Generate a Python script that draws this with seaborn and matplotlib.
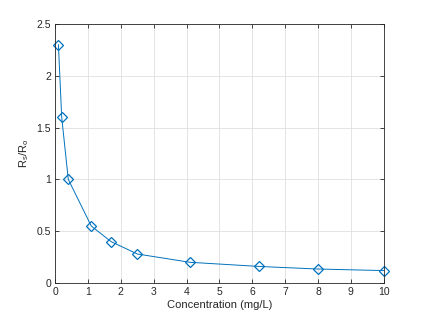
import matplotlib
matplotlib.use("Agg")
import matplotlib.pyplot as plt
import seaborn as sns
import pandas as pd

# Values
concentration = [0.1, 0.2, 0.4, 1.1, 1.7, 2.5, 4.1, 6.2, 8.0, 10.0]
ratio = [2.3, 1.6, 1.0, 0.55, 0.40, 0.28, 0.20, 0.16, 0.135, 0.12]
x_ticks = list(range(0, 11))
y_ticks = [0, 0.5, 1, 1.5, 2, 2.5]

df = pd.DataFrame({"conc": concentration, "ratio": ratio})

sns.set_style("white")
plt.rcParams['font.family'] = ['Liberation Sans', 'DejaVu Sans']
plt.rcParams['mathtext.fontset'] = 'custom'
plt.rcParams['mathtext.rm'] = 'Liberation Sans'
plt.rcParams['mathtext.it'] = 'Liberation Sans'

fig = plt.figure(figsize=(4.24, 3.18), dpi=100)
ax = fig.add_axes([0.13, 0.11, 0.775, 0.815])

blue = '#0072BD'
sns.lineplot(data=df, x='conc', y='ratio', ax=ax, color=blue, linewidth=0.7,
             marker='D', markersize=5, markerfacecolor='none',
             markeredgecolor=blue, markeredgewidth=0.9, sort=False, clip_on=False)

ax.set_xlim(0, 10)
ax.set_ylim(0, 2.5)
ax.set_xticks(x_ticks)
ax.set_yticks(y_ticks)
ax.set_xticklabels([str(t) for t in x_ticks])
ax.set_yticklabels(['0', '0.5', '1', '1.5', '2', '2.5'])

ax.grid(True, color='#dfdfdf', linewidth=0.6)
ax.set_axisbelow(True)
for s in ax.spines.values():
    s.set_visible(True)
    s.set_color('#262626')
    s.set_linewidth(0.6)
ax.tick_params(direction='in', length=3, width=0.6, colors='#262626',
               labelsize=7.5, top=True, right=True, bottom=True, left=True,
               labeltop=False, labelright=False, pad=3)

ax.set_xlabel('Concentration (mg/L)', fontsize=8, color='#262626', labelpad=2)
ax.set_ylabel(r'R$_{\mathrm{s}}$/R$_{\mathrm{o}}$', fontsize=8, color='#262626', labelpad=4)

fig.savefig('out.png', dpi=100)
